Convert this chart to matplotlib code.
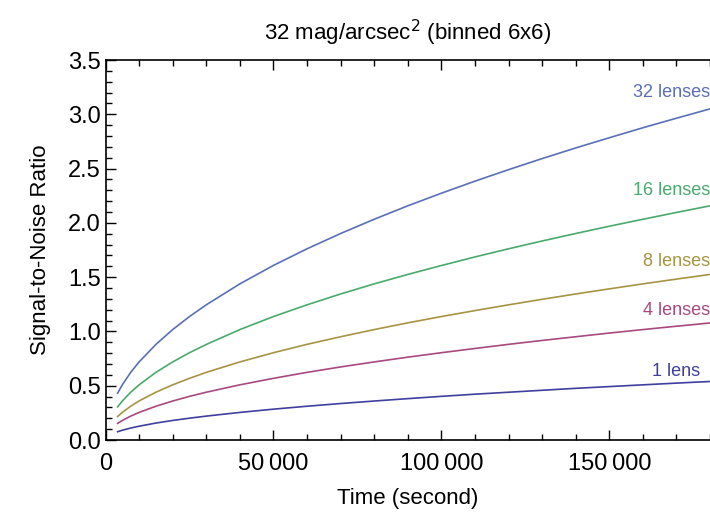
import numpy as np
from matplotlib import pyplot as plt
from matplotlib.ticker import MultipleLocator, FuncFormatter

plt.rcParams['font.family'] = ['Liberation Sans', 'DejaVu Sans']

# exposure time (s) and signal-to-noise
time = [3600, 5000, 7500, 10000, 15000, 20000, 25000, 30000, 40000, 50000, 60000,
        70000, 80000, 90000, 100000, 110000, 120000, 130000, 140000, 150000,
        160000, 170000, 180000]
snr_32 = [0.431, 0.508, 0.623, 0.719, 0.880, 1.017, 1.137, 1.245, 1.438, 1.608, 1.761,
          1.902, 2.033, 2.157, 2.273, 2.384, 2.490, 2.592, 2.690, 2.784, 2.876, 2.964, 3.050]
snr_16 = [0.305, 0.359, 0.440, 0.508, 0.623, 0.719, 0.804, 0.880, 1.017, 1.137, 1.245,
          1.345, 1.438, 1.525, 1.607, 1.686, 1.761, 1.833, 1.902, 1.969, 2.033, 2.096, 2.157]
snr_8 = [0.216, 0.254, 0.311, 0.360, 0.440, 0.508, 0.568, 0.623, 0.719, 0.804, 0.881,
         0.951, 1.017, 1.079, 1.137, 1.192, 1.245, 1.296, 1.345, 1.392, 1.438, 1.482, 1.525]
snr_4 = [0.153, 0.180, 0.220, 0.254, 0.311, 0.359, 0.402, 0.440, 0.508, 0.568, 0.623,
         0.673, 0.719, 0.763, 0.804, 0.843, 0.881, 0.917, 0.951, 0.985, 1.017, 1.048, 1.078]
snr_1 = [0.076, 0.090, 0.110, 0.127, 0.156, 0.180, 0.201, 0.220, 0.254, 0.284, 0.311,
         0.336, 0.359, 0.381, 0.402, 0.422, 0.440, 0.458, 0.476, 0.492, 0.508, 0.524, 0.539]

labels = ['32 lenses', '16 lenses', '8 lenses', '4 lenses', '1 lens']
label_y = [3.20, 2.30, 1.64, 1.19, 0.635]
colors = ['#5a6fb6', '#4aa96c', '#a69444', '#a8497f', '#3f3fa0']

fig = plt.figure(figsize=(7.1, 5.13), dpi=100)
ax = fig.add_axes([0.1486, 0.1423, 0.8514, 0.7407])

series = [snr_32, snr_16, snr_8, snr_4, snr_1]
for snr, lab, ly, c in zip(series, labels, label_y, colors):
    ax.plot(time, snr, color=c, lw=1.2)
    lx = 177000 if lab == '1 lens' else 180000
    ax.text(lx, ly, lab, color=c, fontsize=13, ha='right', va='center', clip_on=False)

ax.set_xlim(0, 180000)
ax.set_ylim(0, 3.5)
ax.xaxis.set_major_locator(MultipleLocator(50000))
ax.xaxis.set_minor_locator(MultipleLocator(10000))
ax.yaxis.set_major_locator(MultipleLocator(0.5))
ax.yaxis.set_minor_locator(MultipleLocator(0.1))
ax.xaxis.set_major_formatter(FuncFormatter(lambda v, p: '0' if v == 0 else '{:,.0f}'.format(v).replace(',', '\u2009')))
ax.yaxis.set_major_formatter(FuncFormatter(lambda v, p: '{:.1f}'.format(v)))
ax.tick_params(which='both', direction='in', top=True, right=False, labelsize=17, width=1)
ax.tick_params(which='major', length=7)
ax.tick_params(which='minor', length=4)
ax.tick_params(axis='x', pad=9)
ax.spines['right'].set_visible(False)
for s in ['left', 'bottom', 'top']:
    ax.spines[s].set_linewidth(1.2)

ax.set_xlabel('Time (second)', fontsize=16, labelpad=10)
ax.set_ylabel('Signal-to-Noise Ratio', fontsize=16, labelpad=12)
ax.set_title('32 mag/arcsec$^2$ (binned 6x6)', fontsize=16, pad=14)

fig.savefig('out.png')
